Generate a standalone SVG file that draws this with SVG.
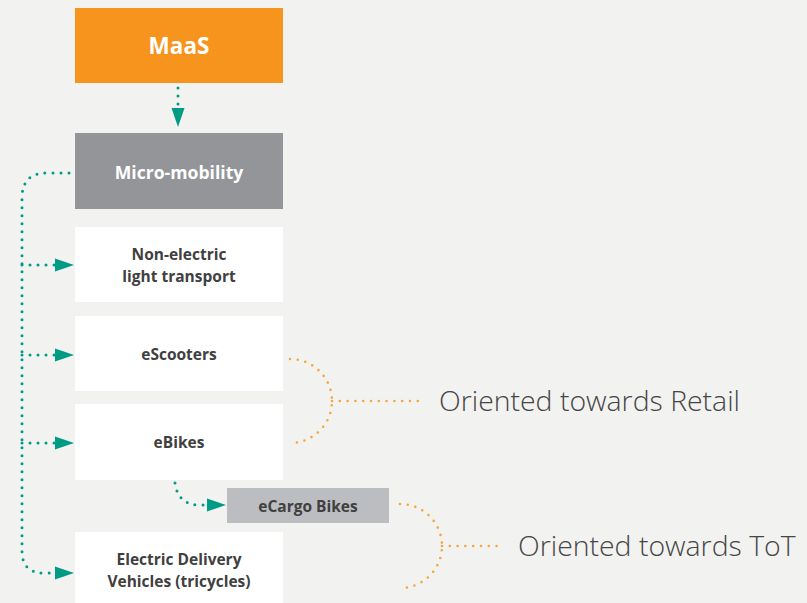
<svg xmlns="http://www.w3.org/2000/svg" width="807" height="603" viewBox="0 0 807 603">
<style>
.box-t{font-family:"Open Sans","Liberation Sans",sans-serif;font-weight:700;text-anchor:middle}
.dark{fill:#404040;font-size:15.5px}
.white{fill:#ffffff}
.tl{stroke:#009B84;stroke-width:3;stroke-linecap:round;stroke-dasharray:0 8;fill:none}
.or{stroke:#F7A541;stroke-width:2.6;stroke-linecap:round;stroke-dasharray:0 7.8;fill:none}
.lbl{font-family:"Open Sans","Liberation Sans",sans-serif;font-weight:300;fill:#454545;font-size:28.4px}
</style>
<rect width="807" height="603" fill="#F2F2F0"/>
<g id="maas"><rect x="75" y="8" width="208" height="75" fill="#F7941D"/><text class="box-t white" x="179" y="54" font-size="22.5">MaaS</text></g>
<g id="micro"><rect x="75" y="133" width="208" height="76" fill="#939598"/><text class="box-t white" x="179" y="179" font-size="17.6">Micro-mobility</text></g>
<g id="nonelectric"><rect x="75" y="227" width="208" height="75" fill="#ffffff"/><text class="box-t dark" x="179" y="260">Non-electric</text><text class="box-t dark" x="179" y="282">light transport</text></g>
<g id="escooters"><rect x="75" y="316" width="208" height="75" fill="#ffffff"/><text class="box-t dark" x="179" y="360">eScooters</text></g>
<g id="ebikes"><rect x="75" y="404" width="208" height="76" fill="#ffffff"/><text class="box-t dark" x="179" y="448">eBikes</text></g>
<g id="ecargo"><rect x="227" y="488" width="162" height="35" fill="#BCBDC0"/><text class="box-t dark" x="308" y="512" font-size="15">eCargo Bikes</text></g>
<g id="delivery"><rect x="75" y="532" width="208" height="71" fill="#ffffff"/><text class="box-t dark" x="179" y="565">Electric Delivery</text><text class="box-t dark" x="179" y="587">Vehicles (tricycles)</text></g>
<g id="connectors">
<path class="tl" d="M178,88 V108" />
<path d="M171.5,108 L184.5,108 L178,127 z" fill="#009B84"/>
<path class="tl" d="M69,173 H47 Q22,173 22,198 V551 Q22,573 44,573 H55"/>
<path d="M55,566.5 L74,573 L55,579.5 z" fill="#009B84"/>
<path class="tl" d="M22,265 H55"/>
<path d="M55,258.5 L74,265 L55,271.5 z" fill="#009B84"/>
<path class="tl" d="M22,355 H55"/>
<path d="M55,348.5 L74,355 L55,361.5 z" fill="#009B84"/>
<path class="tl" d="M22,443 H55"/>
<path d="M55,436.5 L74,443 L55,449.5 z" fill="#009B84"/>
<path class="tl" d="M175,483 Q178,505 200,505 H207"/>
<path d="M207,498.5 L226,505 L207,511.5 z" fill="#009B84"/>
<path class="or" d="M290,359 A42,42 0 0 1 290,443"/>
<path class="or" d="M332,401 H421"/>
<path class="or" d="M400,504 A42,42 0 0 1 400,588"/>
<path class="or" d="M442,546 H500"/>
</g>
<text class="lbl" x="439" y="411">Oriented towards Retail</text>
<text class="lbl" x="518" y="556">Oriented towards ToT</text>
</svg>
